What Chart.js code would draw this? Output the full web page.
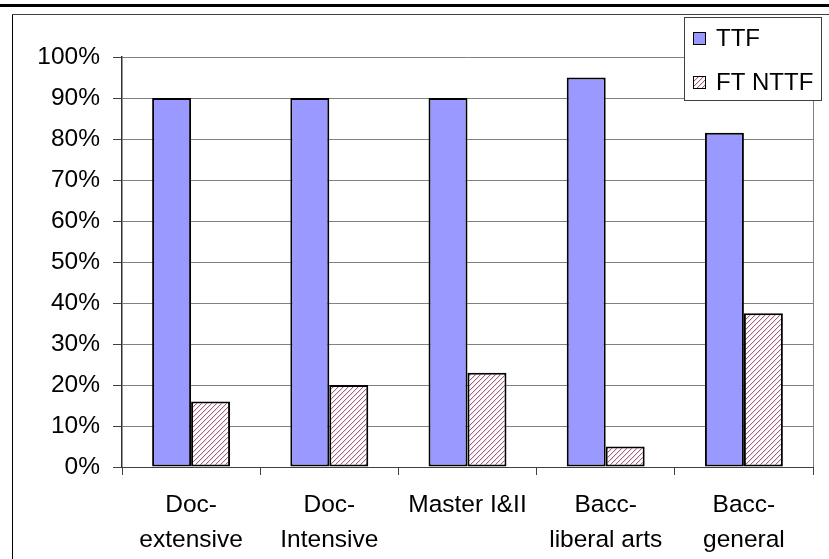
<!DOCTYPE html>
<html>
<head>
<meta charset="utf-8">
<script src="https://cdn.jsdelivr.net/npm/chart.js@4.4.1/dist/chart.umd.min.js"></script>
<style>
    html, body { margin: 0; padding: 0; background: #ffffff; }
    #wadahGrafik { width: 829px; height: 559px; }
</style>
</head>
<body>
<div id="wadahGrafik"><canvas id="barchartFakultas" width="829" height="559"></canvas></div>
<script>
//START Data grafik
const kategori = [['Doc-', 'extensive'], ['Doc-', 'Intensive'], ['Master I&II'], ['Bacc-', 'liberal arts'], ['Bacc-', 'general']];
const labelSeri = ['TTF', 'FT NTTF'];
const dataTTF = [90, 90, 90, 95, 81.5];
const dataFTNTTF = [16, 20, 23, 5, 37.5];
const tickPersen = [0, 10, 20, 30, 40, 50, 60, 70, 80, 90, 100];
//END Data grafik

// Pola arsir miring untuk seri FT NTTF
function buatPolaArsir(ctx) {
    const ukuran = 5;
    const c = document.createElement('canvas');
    c.width = ukuran;
    c.height = ukuran;
    const g = c.getContext('2d');
    g.fillStyle = '#ffffff';
    g.fillRect(0, 0, ukuran, ukuran);
    for (let i = 0; i < ukuran; i++) {
        g.fillStyle = '#a2607f';
        g.fillRect(i, ukuran - 1 - i, 1, 1);
        g.fillStyle = '#eedde6';
        g.fillRect(i, (ukuran - i) % ukuran, 1, 1);
    }
    return ctx.createPattern(c, 'repeat');
}

document.addEventListener('DOMContentLoaded', function () {
    const canvas = document.getElementById('barchartFakultas');
    const ctx = canvas.getContext('2d');
    const polaArsir = buatPolaArsir(ctx);
    const warnaSeri = ['#9999ff', polaArsir];
    const hurufUtama = '"Liberation Sans", Arial, sans-serif';

    Chart.defaults.font.family = hurufUtama;
    Chart.defaults.font.size = 24.5;
    Chart.defaults.color = '#000000';

    // Garis tepi halaman, bingkai grafik dan batas kanan area plot
    const bingkai = {
        id: 'bingkai',
        beforeDraw(chart) {
            const c = chart.ctx;
            c.save();
            c.fillStyle = '#000000';
            c.fillRect(0, 4, chart.width, 3);
            c.fillRect(12, 14, 1, chart.height - 14);
            c.fillStyle = '#404040';
            c.fillRect(12, 14, chart.width - 12, 1);
            c.restore();
        },
        beforeDatasetsDraw(chart) {
            const a = chart.chartArea;
            const c = chart.ctx;
            c.save();
            c.strokeStyle = '#808080';
            c.lineWidth = 1;
            c.beginPath();
            c.moveTo(Math.round(a.right) + 0.5, a.top);
            c.lineTo(Math.round(a.right) + 0.5, a.bottom);
            c.stroke();
            c.restore();
        }
    };

    // Legenda dengan kotak di pojok kanan atas
    const legendaKotak = {
        id: 'legendaKotak',
        afterDraw(chart) {
            const c = chart.ctx;
            c.save();
            c.fillStyle = '#ffffff';
            c.fillRect(684, 17, 137, 83);
            c.strokeStyle = '#404040';
            c.lineWidth = 1;
            c.strokeRect(684.5, 17.5, 137, 83);
            c.font = '24px ' + hurufUtama;
            c.textBaseline = 'middle';
            chart.data.datasets.forEach(function (ds, i) {
                const y = 32 + i * 44;
                c.fillStyle = ds.backgroundColor;
                c.fillRect(693, y, 13, 13);
                c.strokeStyle = '#000000';
                c.strokeRect(693.5, y + 0.5, 12, 12);
                c.fillStyle = '#000000';
                c.fillText(ds.label, 716, y + 7);
            });
            c.restore();
        }
    };

    const config = {
        type: 'bar',
        data: {
            labels: kategori,
            datasets: [
                {
                    label: labelSeri[0],
                    data: dataTTF,
                    backgroundColor: warnaSeri[0],
                    borderColor: '#000000',
                    borderWidth: 2,
                    borderSkipped: false,
                },
                {
                    label: labelSeri[1],
                    data: dataFTNTTF,
                    backgroundColor: warnaSeri[1],
                    borderColor: '#000000',
                    borderWidth: 2,
                    borderSkipped: false,
                },
            ],
        },
        options: {
            responsive: false,
            animation: false,
            devicePixelRatio: 1,
            categoryPercentage: 0.564,
            barPercentage: 1,
            layout: {
                padding: { left: 0, top: 57, right: 16, bottom: 0 },
            },
            plugins: {
                legend: { display: false },
                tooltip: { enabled: false },
            },
            scales: {
                x: {
                    grid: {
                        offset: true,
                        drawOnChartArea: false,
                        drawTicks: true,
                        tickLength: 8,
                        color: '#404040',
                    },
                    border: { color: '#404040', width: 1 },
                    ticks: {
                        autoSkip: false,
                        maxRotation: 0,
                        padding: 13,
                        font: { size: 24.5, lineHeight: 1.43 },
                    },
                    afterFit: function (scale) {
                        scale.height = 92;
                    },
                },
                y: {
                    min: 0,
                    max: 100,
                    grid: {
                        color: '#808080',
                        tickColor: '#404040',
                        tickLength: 9,
                    },
                    border: { color: '#303030', width: 1.5 },
                    ticks: {
                        padding: 13,
                        callback: function (v) { return v + '%'; },
                    },
                    afterBuildTicks: function (scale) {
                        scale.ticks = tickPersen.map(function (v) { return { value: v }; });
                    },
                    afterFit: function (scale) {
                        scale.width = 122;
                    },
                },
            },
        },
        plugins: [bingkai, legendaKotak],
    };

    new Chart(ctx, config);
});
</script>
</body>
</html>
